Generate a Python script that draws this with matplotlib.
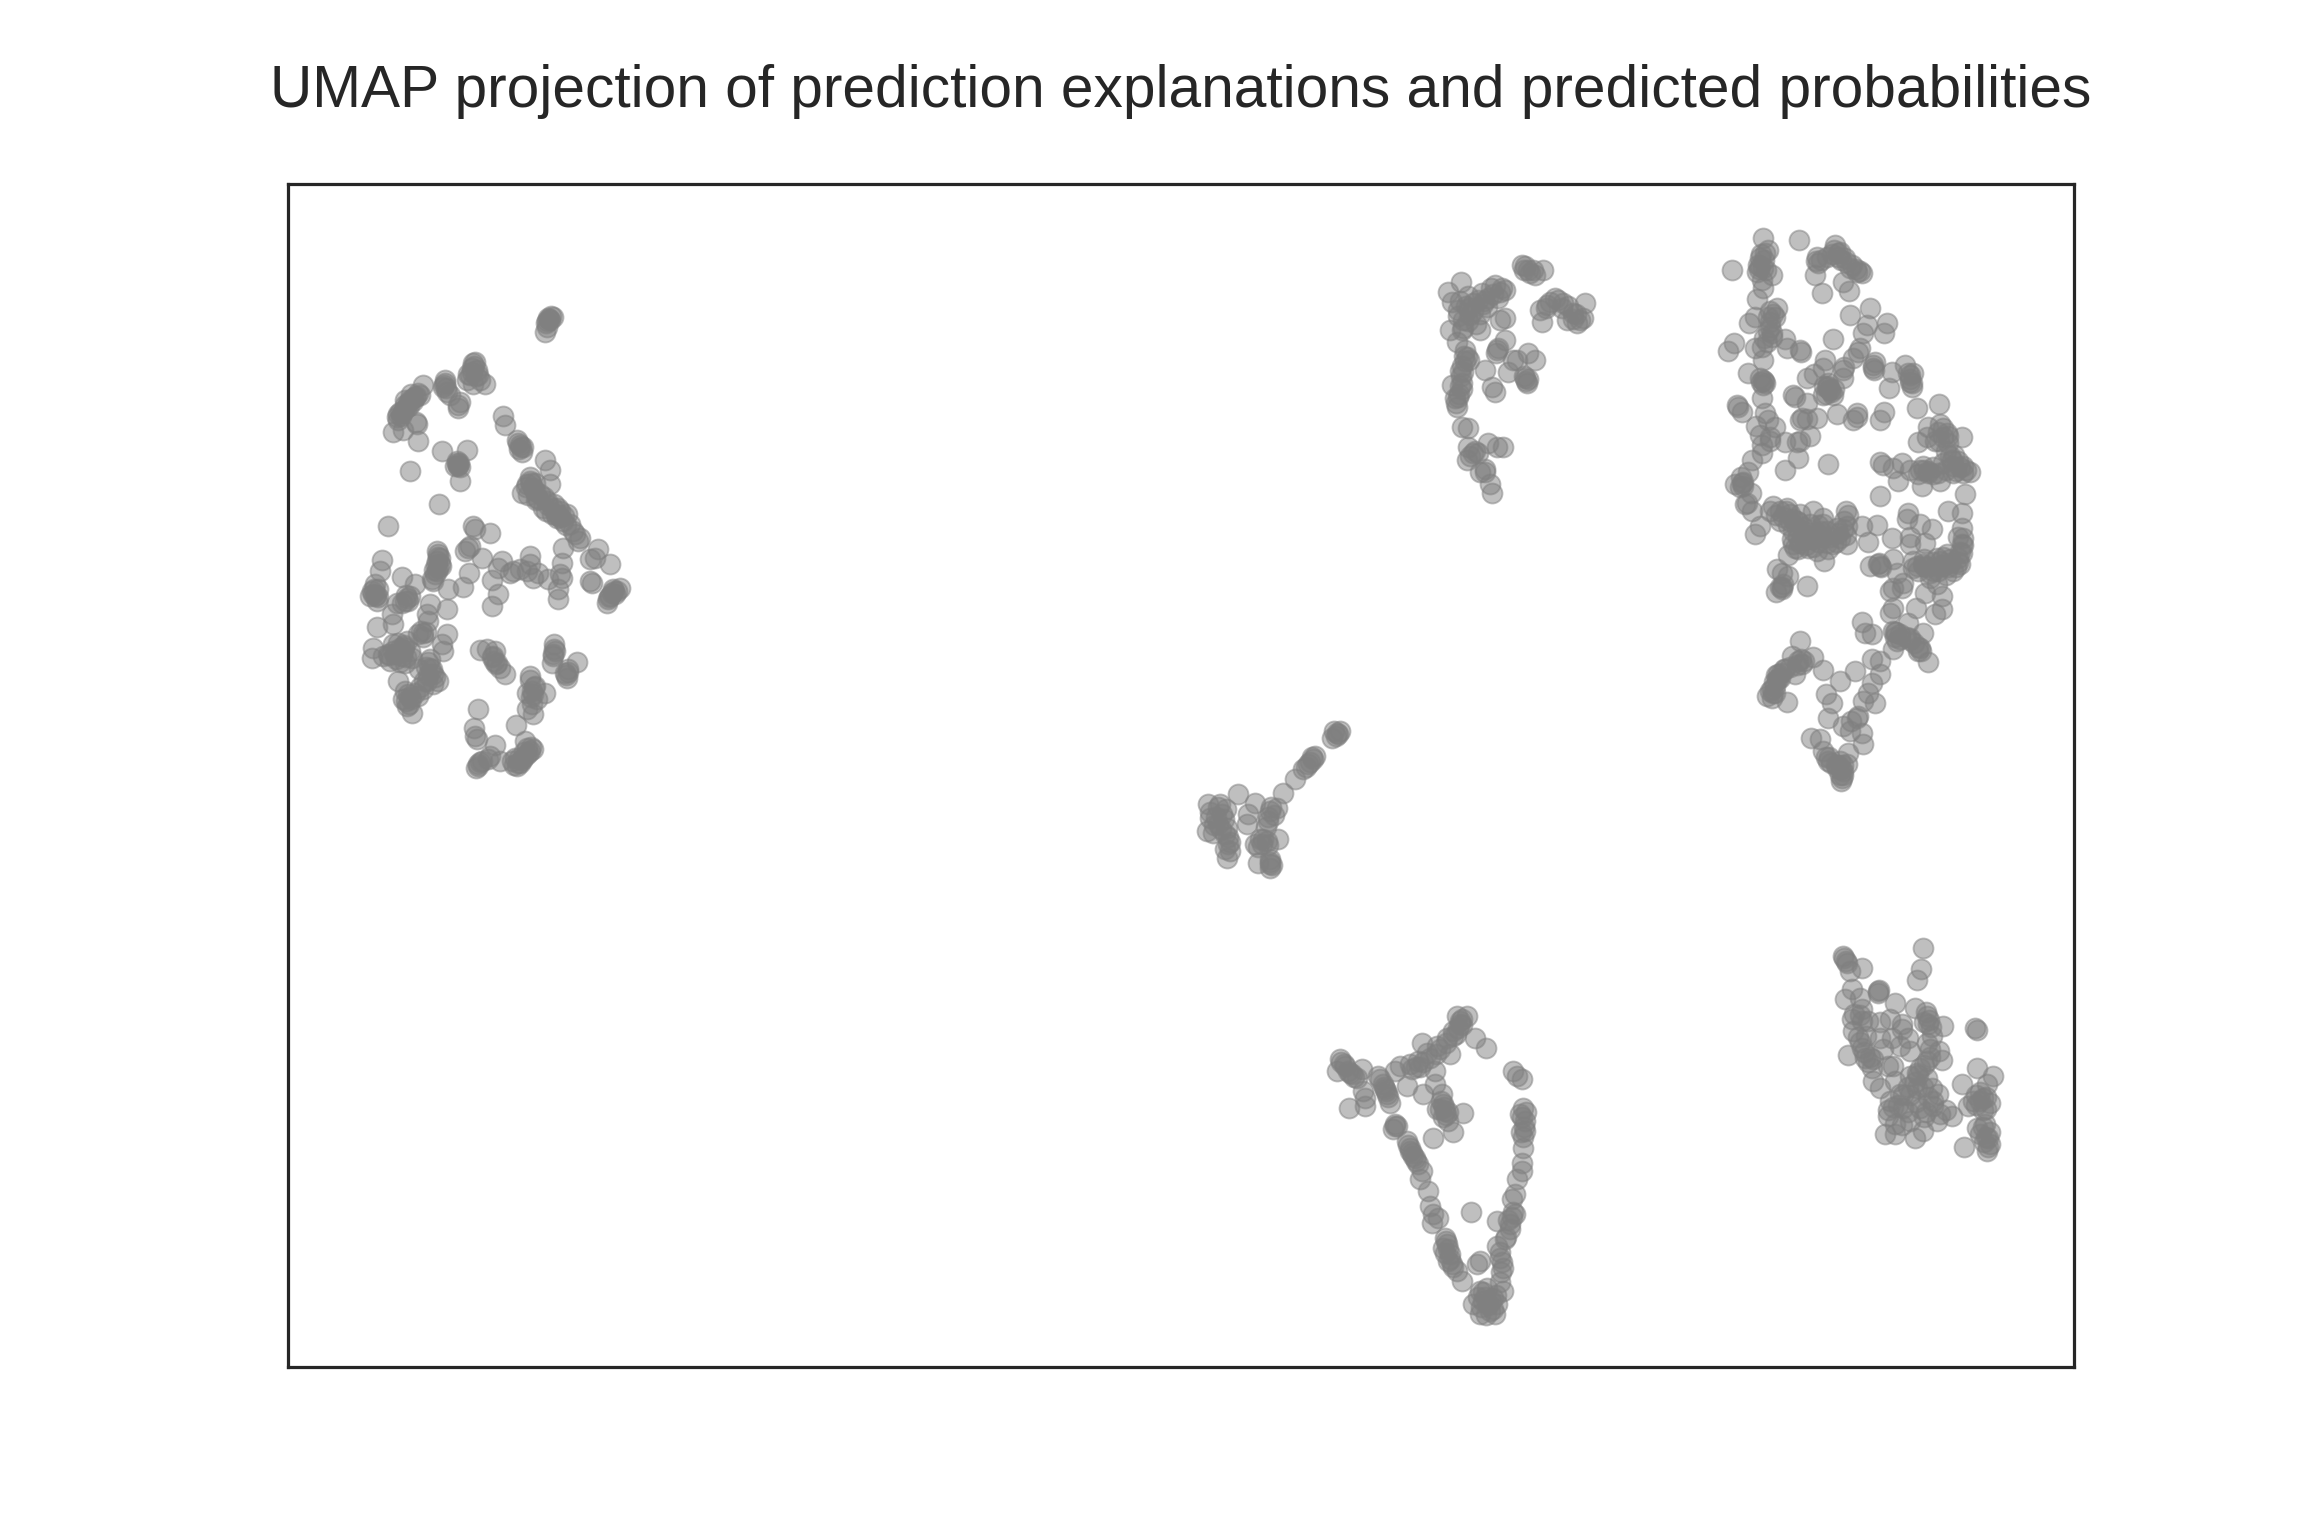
import numpy as np
import matplotlib as mpl
mpl.use('Agg')
import matplotlib.pyplot as plt

# values, one list per cluster of the projection
cluster_left = [
    (2.60,10.48),(2.63,10.50),(2.58,10.43),(2.57,10.34),(2.65,10.49),(2.59,10.39),(2.62,10.46),
    (1.85,10.03),(1.89,9.96),(1.82,9.91),(1.92,9.86),(1.97,9.82),(1.79,9.86),(1.85,9.82),(1.87,10.04),
    (1.84,9.98),(1.90,9.91),(1.57,9.83),(1.55,9.79),(1.59,9.74),(1.57,9.86),(1.62,9.71),(1.70,9.61),
    (1.70,9.58),(1.72,9.64),(1.35,9.81),(1.32,9.71),(1.27,9.69),(1.22,9.66),(1.17,9.61),(1.12,9.54),
    (1.09,9.49),(1.10,9.46),(1.14,9.53),(1.20,9.63),(1.30,9.73),(1.25,9.68),(1.17,9.66),(1.05,9.34),
    (1.15,9.36),(1.29,9.42),(1.28,9.44),(1.30,9.25),(1.54,9.15),(1.79,9.16),(1.70,9.01),(1.69,9.03),
    (1.72,8.99),(1.67,9.00),(1.72,8.86),(1.22,8.95),(1.51,8.63),(1.00,8.41),(2.15,9.50),(2.17,9.41),
    (2.32,9.21),(2.30,9.23),(2.34,9.14),(2.29,9.26),(2.35,9.19),(2.57,9.06),(2.62,8.96),
    (2.42,8.89),(2.39,8.83),(2.45,8.79),(2.34,8.74),(2.52,8.73),(2.59,8.66),(2.55,8.59),(2.65,8.59),
    (2.72,8.56),(2.79,8.53),(2.75,8.46),(2.82,8.43),(2.87,8.33),(2.92,8.29),(2.90,8.26),(2.62,8.83),
    (2.42,8.86),(2.49,8.69),(2.64,8.53),(2.69,8.49),(2.75,8.19),(2.74,8.04),(2.72,7.93),(2.74,7.89),
    (2.70,7.78),(2.70,7.68),(2.60,7.88),(3.02,8.08),(3.10,8.18),(3.07,8.09),(3.22,8.03),(3.02,7.86),
    (3.04,7.84),(3.25,7.78),(3.22,7.71),(3.29,7.76),(3.19,7.64),(3.32,7.79),(3.20,7.68),(3.27,7.73),
    (1.85,8.41),(1.87,8.38),(2.02,8.34),(1.80,8.19),(1.77,8.16),(1.82,8.21),(1.94,8.09),(1.81,7.94),
    (1.75,7.80),(2.14,8.06),(2.10,7.99),(2.04,7.87),(2.10,7.73),(2.04,7.61),(2.22,7.94),(2.32,7.98),
    (2.42,8.11),(2.42,8.03),(2.45,7.89),(2.39,7.96),(2.50,7.94),(2.25,7.96),
    (0.94,8.07),(0.92,7.96),(0.87,7.83),(0.85,7.73),(0.82,7.71),(0.89,7.66),(0.90,7.78),(1.14,7.90),
    (1.19,7.69),(1.17,7.66),(1.22,7.71),(1.14,7.64),(1.50,8.13),(1.49,8.06),(1.50,7.99),(1.47,7.93),
    (1.44,7.88),(1.52,8.09),(1.49,8.16),(1.60,7.78),(1.59,7.58),(1.27,7.83),(1.42,7.63),(1.39,7.53),
    (1.40,7.46),(1.04,7.53),(1.05,7.43),(0.89,7.40),(1.35,7.34),(1.30,7.33),(1.59,7.33),(1.54,7.23),
    (1.55,7.16),(0.85,7.19),(0.84,7.09),(0.95,7.11),(1.05,7.23),(1.12,7.19),(1.19,7.26),(1.07,7.13),
    (1.14,7.11),(1.22,7.16),(1.17,7.04),(1.02,7.06),(1.24,7.09),(1.10,6.86),(1.42,6.99),(1.45,6.93),
    (1.39,6.86),(1.50,6.86),(1.35,6.78),(1.30,6.71),(1.20,6.73),(1.15,6.68),(1.19,6.61),(1.24,6.54),
    (1.17,6.76),(1.42,7.08),(1.92,7.17),(1.99,7.18),(2.05,7.11),(2.09,7.04),(2.12,6.99),(2.17,6.93),
    (2.07,7.16),(2.66,7.23),(2.67,7.16),(2.65,7.11),(2.64,7.04),(2.89,7.05),(2.80,6.98),(2.79,6.89),
    (2.77,6.94),(2.42,6.91),(2.47,6.81),(2.45,6.73),(2.57,6.74),(2.39,6.74),(2.44,6.63),(2.45,6.53),
    (2.39,6.58),(2.49,6.68),(1.90,6.58),(1.86,6.39),(1.89,6.28),(1.87,6.31),(2.28,6.42),(2.37,6.26),
    (2.07,6.22),(2.02,6.11),(1.94,6.06),(1.88,5.99),(1.90,6.01),(2.12,6.06),(2.24,6.06),(2.29,6.01),
    (2.35,6.09),(2.42,6.16),(2.39,6.19),(2.27,6.09),(2.45,6.18),(2.32,6.04),
    # dark parts, many points on top of each other
    (2.61,10.47),(2.59,10.45),(1.86,10.00),(1.84,9.94),(1.88,9.90),(1.80,9.92),(1.56,9.81),(1.58,9.78),
    (1.25,9.65),(1.21,9.60),(1.16,9.56),(1.13,9.50),(1.19,9.59),(1.28,9.70),(1.23,9.72),(1.10,9.52),
    (1.70,9.00),(1.71,9.03),(2.33,9.19),(2.31,9.17),(2.38,8.80),(2.43,8.84),(2.47,8.76),(2.40,8.72),
    (2.50,8.68),(2.56,8.70),(2.60,8.62),(2.66,8.63),(2.70,8.59),(2.76,8.51),(2.72,8.50),(2.78,8.42),
    (2.85,8.36),(2.68,8.52),(2.58,8.56),(2.47,8.84),(3.24,7.74),(3.21,7.70),(3.26,7.76),
    (0.86,7.78),(0.88,7.72),(0.84,7.76),(0.90,7.70),(1.18,7.72),(1.20,7.66),(1.50,8.10),(1.48,8.02),
    (1.46,7.97),(1.52,8.03),(1.49,7.96),(1.05,7.16),(1.10,7.14),(1.15,7.17),(1.08,7.08),(1.12,7.05),
    (1.18,7.10),(1.00,7.13),(1.16,7.22),(1.10,7.24),(1.40,7.05),(1.44,6.98),(1.40,6.92),(1.36,6.86),
    (1.32,6.80),(1.27,6.74),(1.22,6.70),(1.18,6.66),(1.21,6.63),(1.47,6.90),(1.38,7.00),(1.35,7.30),
    (1.33,7.36),(2.04,7.10),(2.08,7.03),(2.06,7.06),(2.66,7.18),(2.65,7.13),(2.80,6.95),(2.78,6.92),
    (2.44,6.76),(2.46,6.80),(2.43,6.70),(2.42,6.87),(1.90,6.03),(1.92,6.05),(2.00,6.08),(2.30,6.04),
    (2.34,6.07),(2.38,6.12),(2.26,6.02),(2.40,6.14),(2.31,6.09),(2.36,6.15),(2.43,6.20),(1.69,9.05),
    (1.01,7.12),(1.16,7.20),(1.31,6.98),(1.45,6.83),(1.23,6.68),(1.38,7.35),(1.53,8.01),(1.45,7.86),
    (0.87,7.71),(1.09,7.64),(2.48,8.67),(2.70,8.52),
]

cluster_right = [
    (14.75,11.28),(14.44,10.96),(15.11,11.26),(14.80,11.16),(14.77,11.13),(14.72,11.08),(14.70,11.01),
    (14.69,10.94),(14.75,10.98),(14.84,10.91),(14.74,10.86),(14.75,10.78),(14.69,10.67),(14.89,10.58),
    (14.87,10.49),(14.80,10.49),(14.67,10.49),(14.61,10.43),(14.82,10.39),(14.84,10.29),(14.79,10.24),
    (14.74,10.19),(14.67,10.18),(14.46,10.23),(14.40,10.15),(14.75,10.06),(14.97,10.27),(14.99,10.18),
    (15.12,10.16),(15.13,10.14),(14.60,9.93),(14.72,9.88),(14.75,9.81),(14.77,9.83),(14.74,9.68),
    (14.49,9.61),(14.50,9.59),(14.54,9.54),(14.77,9.53),(14.80,9.46),(14.87,9.39),(14.72,9.31),
    (14.74,9.21),(14.82,9.29),(14.74,9.13),(14.97,9.24),(15.09,9.24),(14.64,9.06),(14.60,8.94),
    (14.54,8.84),(14.55,8.81),(14.47,8.83),(14.59,8.64),
    (15.29,11.09),(15.27,10.91),(15.34,10.73),(15.30,11.03),(15.39,11.09),(15.47,11.21),(15.52,11.14),
    (15.57,11.08),(15.64,11.01),(15.74,10.93),(15.69,10.94),(15.55,10.84),(15.61,10.75),(15.50,11.13),
    (15.82,10.58),(15.62,10.51),(15.99,10.43),(15.96,10.33),(15.79,10.41),(15.75,10.33),(15.45,10.27),
    (15.70,10.14),(15.72,10.18),(15.65,10.08),(15.85,9.98),(15.85,10.01),(15.87,10.04),(16.04,9.94),
    (16.01,9.78),(16.17,10.01),(16.22,9.91),(16.22,9.84),(16.24,9.79),(16.25,9.93),(16.29,9.58),
    (16.51,9.62),(15.96,9.54),(15.92,9.46),(15.69,9.53),(15.65,9.46),(15.69,9.49),(15.49,9.52),
    (15.37,10.06),(15.35,9.98),(15.19,9.88),(15.55,9.96),(15.55,9.88),(15.42,9.76),(15.39,9.79),
    (15.45,9.71),(15.40,9.83),(15.35,9.71),(15.19,9.63),(15.05,9.71),(15.07,9.69),(15.12,9.46),
    (15.14,9.48),(15.29,9.48),(15.22,9.30),(15.10,9.08),(15.40,9.02),
    (15.92,9.04),(15.95,9.01),(16.05,8.98),(16.10,8.86),(16.22,8.96),(16.32,8.96),(16.40,8.93),
    (16.34,8.81),(16.52,8.86),(16.59,9.33),(16.55,9.29),(16.40,9.39),(16.39,9.29),(16.30,9.24),
    (16.60,9.23),(16.64,9.06),(16.72,8.99),(16.75,8.93),(16.82,8.94),(16.65,8.93),(16.55,9.03),
    (16.74,9.29),(16.45,8.99),(15.92,8.71),(16.77,8.73),
    (14.57,8.63),(14.64,8.56),(14.72,8.41),(14.67,8.33),(14.82,8.56),(14.92,8.56),(15.02,8.53),
    (14.92,8.46),(15.12,8.53),(15.25,8.56),(15.35,8.49),(15.09,8.39),(15.22,8.43),(15.39,8.36),
    (15.49,8.39),(15.59,8.41),(15.58,8.56),(15.52,8.29),(15.59,8.23),(15.39,8.24),(15.25,8.28),
    (15.12,8.24),(15.05,8.23),(15.00,8.12),(15.07,8.19),(15.36,8.06),(15.20,8.19),(15.29,8.16),
    (15.15,8.33),(15.32,8.36),(15.45,8.23),(15.02,8.46),(14.85,8.61),(14.99,8.59),(15.09,8.46),
    (15.35,8.43),(14.89,7.98),(14.94,7.94),(15.00,7.91),(14.95,7.83),(14.94,7.80),(14.88,7.75),
    (15.19,7.81),
    (15.74,8.41),(15.89,8.42),(15.80,8.25),(16.04,8.29),(16.20,8.54),(16.19,8.48),(16.32,8.43),
    (16.44,8.38),(16.60,8.56),(16.74,8.54),(16.74,8.39),(16.75,8.29),(16.74,8.23),(16.22,8.23),
    (16.37,8.24),(16.70,8.09),(16.59,8.13),(16.49,8.09),(16.35,8.03),(16.29,8.01),(16.55,8.01),
    (16.45,7.96),(16.65,7.96),(16.72,8.03),(16.42,7.89),(16.25,7.99),(16.52,8.06),(16.62,8.04),
    (16.49,7.83),(15.90,8.03),(15.92,8.01),(15.82,8.01),(16.05,8.08),(16.09,7.94),(16.15,7.84),
    (16.02,7.76),(16.05,7.79),(16.37,7.74),(16.54,7.71),(16.28,7.59),(16.47,7.53),(16.54,7.58),
    (16.02,7.54),(16.05,7.59),(16.05,7.36),(16.12,7.33),(16.09,7.26),(16.05,7.18),(16.22,7.29),
    (16.32,7.19),(16.30,7.16),(16.40,7.05),(16.35,7.34),(16.20,7.44),(15.74,7.45),(15.84,7.33),
    (15.77,7.34),
    (15.12,7.26),(15.14,7.03),(15.10,7.06),(15.04,7.11),(15.25,7.10),(15.35,6.97),(15.07,6.93),
    (14.90,6.93),(14.89,6.88),(14.87,6.81),(14.85,6.74),(14.79,6.71),(14.99,6.65),(14.84,6.69),
    (14.92,6.89),(15.67,6.96),(15.52,6.86),(15.84,7.08),(15.92,7.06),(15.92,6.93),(15.84,6.84),
    (15.38,6.73),(15.44,6.64),(15.40,6.49),(15.80,6.74),(15.87,6.64),(15.75,6.66),(15.70,6.51),
    (15.69,6.49),(15.55,6.41),(15.62,6.36),(15.74,6.34),(15.75,6.23),(15.23,6.29),(15.32,6.28),
    (15.35,6.16),(15.40,6.06),(15.49,5.99),(15.59,6.03),(15.54,5.89),(15.60,6.14),(15.55,5.96),
    (15.52,6.06),(15.53,5.86),
    # dark parts
    (14.73,11.12),(14.76,11.06),(14.72,11.00),(14.78,10.96),(14.71,10.97),(14.82,10.55),(14.85,10.52),
    (14.82,10.44),(14.80,10.35),(14.84,10.33),(14.76,10.28),(14.73,9.84),(14.76,9.85),(14.75,9.86),
    (15.28,11.05),(15.33,11.06),(15.44,11.12),(15.50,11.09),(15.53,11.06),(15.58,11.04),(15.62,10.98),
    (15.68,10.97),(15.72,10.95),(15.46,11.16),(15.40,9.80),(15.43,9.74),(15.38,9.72),(15.46,9.77),
    (15.36,9.80),(16.20,9.93),(16.22,9.87),(16.24,9.83),(15.86,9.96),(16.50,9.34),(16.55,9.38),
    (16.60,9.30),(16.47,9.25),(16.58,9.15),(16.62,9.10),(16.65,9.00),(16.70,9.05),(16.75,9.00),
    (16.68,8.95),(16.40,8.95),(16.30,8.92),(16.45,8.92),(16.50,8.93),(16.35,9.00),(16.58,8.96),
    (16.78,8.96),(16.52,9.42),(14.55,8.85),(14.52,8.80),
    (14.95,8.50),(15.05,8.48),(15.00,8.42),(15.10,8.45),(15.15,8.40),(15.05,8.36),(15.10,8.30),
    (15.20,8.35),(15.18,8.28),(15.28,8.35),(15.30,8.25),(15.35,8.30),(15.42,8.30),(15.50,8.34),
    (15.55,8.38),(15.48,8.25),(15.10,8.18),(15.18,8.22),(15.25,8.20),(15.40,8.18),(14.88,8.52),
    (14.98,8.56),(15.04,8.28),(15.30,8.42),(15.58,8.32),(15.56,8.46),(15.60,8.52),
    (16.70,8.30),(16.75,8.22),(16.74,8.14),(16.70,8.05),(16.62,8.08),(16.55,8.10),(16.45,8.05),
    (16.38,8.00),(16.30,7.96),(16.50,7.96),(16.58,7.92),(16.68,8.00),(16.42,7.94),(16.60,8.00),
    (16.36,8.08),(16.25,8.06),(16.72,8.15),(15.91,8.04),(15.93,8.00),(16.08,7.35),(16.12,7.28),
    (16.18,7.30),(16.26,7.24),(16.30,7.20),(16.33,7.16),(16.07,7.30),(15.13,7.08),(15.16,7.06),
    (15.09,7.02),(14.93,6.94),(14.88,6.92),(14.86,6.85),(14.84,6.78),(14.87,6.74),(14.90,6.88),
    (14.96,6.98),(15.02,7.00),(14.94,7.78),(14.92,7.80),(15.50,6.02),(15.53,5.98),(15.55,6.02),
    (15.48,6.02),(15.43,6.04),(15.38,6.10),(15.52,5.92),(15.55,5.92),
    (14.68,9.40),(14.82,9.25),(14.53,8.89),(14.63,8.74),(14.97,8.96),(15.12,9.25),(15.19,9.47),
    (15.41,9.77),(15.26,9.92),(15.56,9.99),(16.14,9.03),(16.36,8.96),(16.51,9.25),(16.66,9.11),
    (16.36,8.01),(16.14,7.79),(16.22,8.30),(16.51,8.01),(16.07,7.35),(16.22,7.27),(14.82,6.76),
    (14.97,6.98),(15.63,6.46),(15.41,6.10),
]

cluster_v = [
    (10.52,3.08),(10.57,3.01),(10.49,2.96),(10.62,2.94),(10.69,2.89),(10.74,2.98),(10.75,2.76),
    (10.77,2.69),(10.61,2.59),(10.77,2.61),(10.90,2.91),(10.95,2.83),(10.99,2.73),(11.02,2.64),
    (10.97,2.78),(11.07,2.43),(11.05,2.38),(11.09,2.41),(11.19,2.26),(11.22,2.19),(11.27,2.09),
    (11.30,2.03),(11.24,2.14),(11.34,1.96),(11.32,1.88),(11.40,1.76),(11.42,1.61),(11.45,1.53),
    (11.44,1.44),(11.50,1.49),(11.57,1.29),(11.59,1.23),(11.62,1.13),(11.64,1.03),(11.69,0.96),
    (11.55,1.19),(11.60,1.06),(11.74,0.86),(11.92,1.06),(11.89,1.03),(11.92,0.76),(11.95,0.66),
    (12.02,0.56),(11.92,0.53),(11.85,0.63),(12.05,0.69),(12.09,0.63),(11.99,0.79),(12.07,0.53),
    (12.15,0.76),(12.15,0.99),(12.12,1.09),(12.09,1.21),(12.17,1.28),(12.22,1.43),(12.27,1.53),
    (12.09,1.46),(12.27,1.73),(12.24,1.68),(12.34,1.96),(12.29,1.88),(12.34,2.04),(12.35,2.19),
    (12.37,2.36),(12.37,2.46),(12.35,2.59),(12.32,2.53),(12.34,2.88),(12.25,2.96),(12.29,2.91),
    (11.83,1.55),(11.74,3.48),(11.69,3.51),(11.79,3.51),(11.72,3.43),(11.65,3.36),(11.59,3.29),
    (11.87,3.29),(11.98,3.19),(11.34,3.24),(11.62,3.13),(11.49,3.21),(11.39,3.14),(11.30,3.06),
    (11.22,3.03),(11.12,3.01),(11.19,2.81),(11.47,2.96),(11.47,2.83),(11.35,2.73),(11.54,2.73),
    (11.55,2.63),(11.57,2.56),(11.49,2.58),(11.75,2.54),(11.65,2.35),(11.45,2.29),(11.60,2.46),
    (11.07,2.96),
    # dark parts
    (10.53,3.05),(10.56,3.03),(10.60,2.96),(10.64,2.93),(10.66,2.90),(10.92,2.88),(10.96,2.80),
    (10.98,2.76),(11.00,2.70),(11.07,2.41),(11.22,2.16),(11.25,2.11),(11.28,2.06),(11.20,2.22),
    (11.58,1.26),(11.60,1.18),(11.62,1.08),(11.57,1.14),(11.65,1.00),(11.95,0.75),(11.97,0.70),
    (12.00,0.62),(12.03,0.66),(12.05,0.58),(11.93,0.60),(11.90,0.70),(11.98,0.52),(12.08,0.72),
    (12.12,0.85),(12.13,0.95),(12.14,1.05),(12.12,1.15),(12.18,1.30),(12.22,1.38),(12.24,1.50),
    (12.20,1.47),(12.25,1.55),(12.35,2.30),(12.36,2.40),(12.34,2.50),(12.38,2.55),(12.33,2.35),
    (11.72,3.46),(11.74,3.42),(11.70,3.39),(11.68,3.33),(11.65,3.31),(11.58,3.24),(11.52,3.18),
    (11.48,3.13),(11.42,3.09),(11.35,3.05),(11.28,3.00),(11.24,2.98),(11.32,3.00),(11.53,2.66),
    (11.56,2.60),(11.58,2.52),(11.52,2.58),(11.60,2.55),(11.55,2.50),
]

cluster_lower_right = [
    (16.35,4.19),(16.33,3.98),(16.29,3.87),(15.55,4.11),(15.59,4.04),(15.62,3.96),(15.74,3.99),
    (15.64,3.78),(15.57,3.68),(15.90,3.76),(15.72,3.69),(15.74,3.58),(15.64,3.48),(15.65,3.36),
    (15.60,3.12),(15.74,3.19),(15.77,3.09),(15.84,2.99),(15.85,2.86),(15.74,3.46),(15.80,3.46),
    (16.02,3.48),(16.07,3.64),(15.92,3.29),(16.04,3.29),(16.14,3.43),(16.20,3.29),(16.12,3.21),
    (15.95,3.18),(16.27,3.59),(16.39,3.51),(16.40,3.43),(16.55,3.41),(16.44,3.31),(16.42,3.18),
    (16.54,3.07),(16.39,3.06),(16.32,2.99),(16.22,2.91),(16.05,3.01),(16.39,2.89),(16.50,2.73),
    (16.45,2.61),(16.29,2.79),(16.12,2.73),(16.02,2.66),(16.15,2.59),(16.32,2.59),(16.52,2.53),
    (16.64,2.51),(16.00,2.51),(16.07,2.43),(15.97,2.33),(16.07,2.33),(16.27,2.29),(16.35,2.36),
    (16.22,2.46),(16.49,2.46),(16.87,3.39),(16.89,3.37),(16.89,2.99),(17.05,2.91),(16.74,2.83),
    (16.99,2.83),(16.85,2.66),(16.95,2.69),(17.02,2.64),(16.80,2.61),(16.89,2.39),(16.97,2.43),
    (17.00,2.29),(16.99,2.16),(17.02,2.23),(16.76,2.20),(16.92,2.33),
    # dark parts
    (15.56,4.09),(15.58,4.06),(15.90,3.74),(15.91,3.77),(15.72,3.25),(15.76,3.15),(15.80,3.05),
    (15.82,3.10),(15.70,3.30),(15.72,3.52),(16.38,3.55),(16.41,3.47),(16.43,3.40),(16.39,3.24),
    (16.42,3.10),(16.36,3.02),(16.30,2.92),(16.27,2.85),(16.20,2.80),(16.15,2.72),(16.35,2.80),
    (16.40,2.70),(16.28,2.65),(16.10,2.62),(16.20,2.55),(16.38,2.55),(16.45,2.66),(16.05,2.60),
    (16.92,2.75),(16.98,2.70),(16.88,2.62),(16.92,2.66),(16.98,2.58),(16.95,2.40),(16.98,2.30),
    (17.00,2.20),(16.96,2.25),(17.02,2.35),
    (15.66,3.53),(15.78,3.31),(15.85,3.08),(16.00,3.01),(16.22,3.16),(16.14,3.38),(15.92,3.45),
    (16.36,3.45),(16.51,3.16),(16.44,2.79),(16.22,2.72),(16.00,2.57),(16.14,2.42),(16.36,2.50),
    (16.58,2.57),(15.92,2.79),(16.07,2.86),(16.29,2.94),(16.88,2.72),(16.95,2.57),
]

cluster_top_mid = [
    (12.34,11.01),(12.40,10.96),(12.47,10.91),(12.55,10.96),(12.67,10.68),(12.59,10.61),(12.52,10.56),
    (12.54,10.44),(12.75,10.63),(12.85,10.53),(12.95,10.48),(12.89,10.43),(12.97,10.63),(12.79,10.46),
    (11.73,10.84),(11.60,10.74),(11.64,10.64),(11.70,10.56),(11.75,10.46),(11.85,10.63),(11.94,10.73),
    (12.07,10.81),(12.12,10.74),(11.99,10.59),(11.82,10.51),(11.92,10.36),(12.17,10.76),(12.12,10.46),
    (12.17,10.48),(11.62,10.36),(11.69,10.24),(12.17,10.26),(12.09,10.16),(11.77,10.16),(11.79,10.09),
    (11.75,9.94),(11.74,9.83),(11.70,9.69),(11.69,9.59),(11.97,9.96),(12.40,10.13),(12.47,10.06),
    (12.29,10.06),(12.20,9.94),(12.37,9.88),(12.39,9.83),(12.07,9.74),(12.04,9.79),(11.64,9.81),
    (11.74,9.39),(11.80,9.38),(11.80,9.19),(12.00,9.23),(12.15,9.19),(12.09,9.19),(11.85,9.13),
    (11.79,9.06),(11.97,8.94),(11.92,8.94),(12.02,8.83),(12.04,8.74),(11.90,9.13),
    # dark parts
    (11.80,10.70),(11.90,10.66),(11.95,10.62),(12.05,10.72),(12.10,10.68),(11.85,10.55),(11.78,10.60),
    (11.72,10.65),(11.70,10.50),(11.80,10.45),(11.88,10.42),(12.00,10.68),(12.14,10.78),(12.03,10.78),
    (11.92,10.52),(11.75,10.38),(12.37,11.00),(12.42,10.93),(12.45,10.96),(12.36,10.96),(12.62,10.64),
    (12.70,10.66),(12.80,10.60),(12.88,10.52),(12.92,10.46),(12.58,10.58),(12.74,10.58),(12.85,10.47),
    (11.76,10.10),(11.74,10.00),(11.73,9.90),(11.72,9.80),(11.71,9.72),(11.68,9.63),(11.77,10.05),
    (11.72,9.95),(11.67,9.68),(12.10,10.18),(12.08,10.13),(12.36,9.90),(12.38,9.85),(11.82,9.10),
    (11.87,9.15),(11.97,8.97),(11.81,10.58),(11.96,10.65),(11.74,10.36),(11.81,10.06),(11.74,9.77),
    (12.25,10.06),(12.40,9.87),
]

cluster_centre = [
    (10.49,6.34),(10.44,6.29),(10.52,6.36),(10.27,6.11),(10.20,6.03),(10.15,5.98),(10.07,5.88),
    (9.95,5.74),(9.32,5.63),(9.20,5.63),(9.50,5.73),(9.34,5.53),(9.22,5.49),(9.39,5.39),(9.30,5.43),
    (9.40,5.23),(9.39,5.09),(9.42,5.16),(9.60,5.53),(9.59,5.43),(9.67,5.64),(9.82,5.56),(9.80,5.46),
    (9.89,5.59),(9.74,5.23),(9.67,5.23),(9.90,5.28),(9.82,5.03),(9.70,5.04),(9.82,4.99),(9.19,5.36),
    (9.25,5.34),(9.79,5.26),
    # dark parts
    (10.48,6.31),(10.50,6.33),(10.46,6.36),(10.25,6.08),(10.22,6.05),(10.18,6.00),(10.24,6.10),
    (9.30,5.60),(9.28,5.50),(9.36,5.48),(9.26,5.42),(9.33,5.38),(9.22,5.55),(9.38,5.58),(9.40,5.30),
    (9.37,5.33),(9.42,5.25),(9.37,5.18),(9.80,5.50),(9.83,5.60),(9.78,5.40),(9.86,5.52),(9.75,5.28),
    (9.70,5.20),(9.80,5.22),(9.72,5.28),(9.82,5.05),(9.82,5.08),(9.84,5.02),
]

clusters = [cluster_left, cluster_right, cluster_v, cluster_lower_right, cluster_top_mid, cluster_centre]
points = np.array([p for c in clusters for p in c])

plt.rcParams['font.family'] = ['Liberation Sans', 'DejaVu Sans']

fig, ax = plt.subplots(figsize=(6, 4), dpi=384)
ax.scatter(points[:, 0], points[:, 1], s=14, c='gray', alpha=0.5, linewidths=0.35)
ax.set_xlim(0, 17.86)
ax.set_ylim(0, 11.82)
ax.set_xticks([])
ax.set_yticks([])
for spine in ax.spines.values():
    spine.set_color('#262626')
    spine.set_linewidth(0.6)
ax.set_title('UMAP projection of prediction explanations and predicted probabilities',
             fontsize=11, color='#262626', pad=14.5)

plt.savefig('out.png')
